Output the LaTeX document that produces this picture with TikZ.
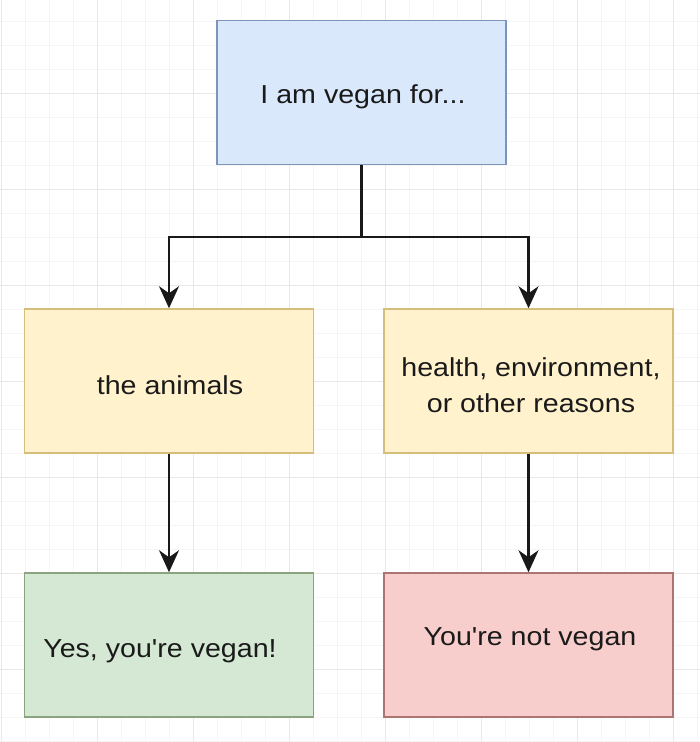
\documentclass[tikz,border=0pt]{standalone}
\usepackage{fontspec}
\setmainfont{Liberation Sans}[Ligatures=TeXOff]
\usetikzlibrary{arrows.meta}
\definecolor{bluefill}{HTML}{DAE8FC}
\definecolor{bluestroke}{HTML}{7D95B8}
\definecolor{yelfill}{HTML}{FFF2CC}
\definecolor{yelstroke}{HTML}{D6BE7A}
\definecolor{grnfill}{HTML}{D5E8D4}
\definecolor{grnstroke}{HTML}{8CA37F}
\definecolor{redfill}{HTML}{F8CECC}
\definecolor{redstroke}{HTML}{AA7572}
\definecolor{gridminor}{HTML}{F5F5F5}
\definecolor{gridmajor}{HTML}{E8E8E8}
\definecolor{txt}{HTML}{1A1A1A}
\newcommand{\widetext}[1]{\scalebox{1.1}[1]{#1}}
\begin{document}
\begin{tikzpicture}[x=1pt,y=-1pt,
  box/.style={draw, line width=1.5pt, minimum width=289pt, minimum height=144pt, inner sep=0pt, anchor=center},
  lbl/.style={text=txt, font=\fontsize{26}{36}\selectfont, align=center, inner sep=0pt},
  arr/.style={draw=black!90, line width=2.2pt, -{Stealth[length=22pt,width=20pt,inset=7pt]}},
  ln/.style={draw=black!90, line width=2.2pt}]
\useasboundingbox (0,0) rectangle (700,742);
\fill[white] (0,0) rectangle (700,742);
% grid
\foreach \k in {0,...,29} {
  \draw[gridminor, line width=0.8pt] ({1+24*\k},0) -- ({1+24*\k},742);
}
\foreach \k in {0,...,31} {
  \draw[gridminor, line width=0.8pt] (0,{-3+24*\k}) -- (700,{-3+24*\k});
}
\foreach \k in {0,...,7} {
  \draw[gridmajor, line width=1pt] ({1+96*\k},0) -- ({1+96*\k},742);
  \draw[gridmajor, line width=1pt] (0,{-3+96*\k}) -- (700,{-3+96*\k});
}
% boxes
\node[box, draw=bluestroke, fill=bluefill] (top) at (361.5,92.5) {};
\node[box, draw=yelstroke, fill=yelfill] (ml) at (169,381) {};
\node[box, draw=yelstroke, fill=yelfill] (mr) at (528.5,381) {};
\node[box, draw=grnstroke, fill=grnfill] (bl) at (169,645) {};
\node[box, draw=redstroke, fill=redfill] (br) at (528.5,645) {};
% texts
\node[lbl] (ttop) at (363,97) {\widetext{I am vegan for...}};
\node[lbl] (tml) at (170,385) {\widetext{the animals}};
\node[lbl] (tmr) at (531,385) {\widetext{health, environment,}\\\widetext{or other reasons}};
\node[lbl] (tbl) at (160,651) {\widetext{Yes, you're vegan!}};
\node[lbl] (tbr) at (530,639) {\widetext{You're not vegan}};
% connectors
\coordinate (split) at (361.5,237);
\draw[ln] (top.south) -- (split);
\draw[arr] (split) -| (ml.north);
\draw[arr] (split) -| (mr.north);
\draw[arr] (ml.south) -- (bl.north);
\draw[arr] (mr.south) -- (br.north);
\end{tikzpicture}
\end{document}
